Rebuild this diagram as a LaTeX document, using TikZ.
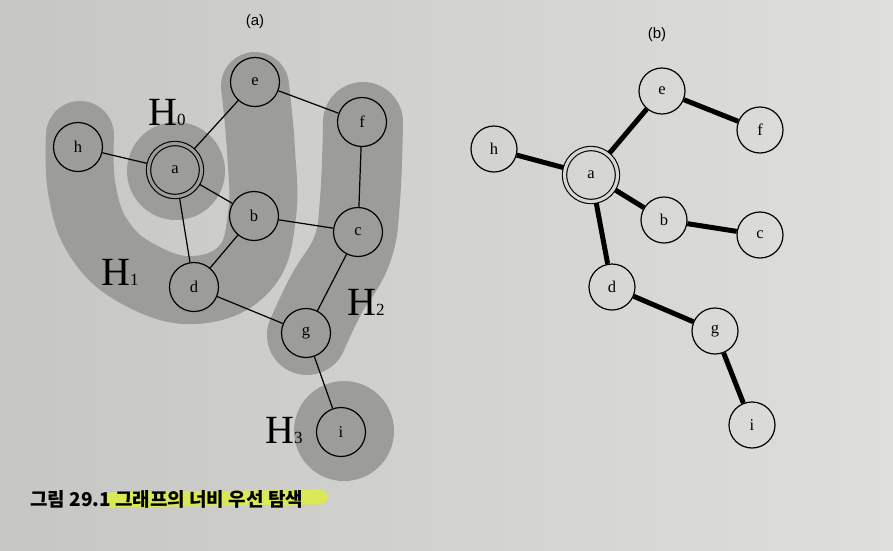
\documentclass[tikz,border=0pt]{standalone}
\usepackage{fontspec}
\setmainfont{Liberation Serif}
\newfontfamily\sflab{Liberation Sans}
\newfontfamily\kr{Noto Sans CJK KR}
\definecolor{paperL}{RGB}{198,198,194}
\definecolor{paperR}{RGB}{222,222,218}
\definecolor{paperM}{RGB}{214,214,210}
\definecolor{blob}{RGB}{156,156,153}
\definecolor{hilite}{RGB}{222,240,60}
\tikzset{
  vtx/.style={circle, draw, line width=1.2pt, minimum size=49pt, inner sep=0pt, font=\fontsize{16.5}{16.5}\selectfont},
  vtxb/.style={vtx, minimum size=46pt},
  root/.style={circle, draw, line width=1.1pt, double distance=3.2pt, minimum size=53pt, inner sep=0pt, outer sep=2.2pt, font=\fontsize{16.5}{16.5}\selectfont},
  blobline/.style={draw=blob, line cap=round, line join=round},
  thin edge/.style={line width=1.2pt},
  tree edge/.style={line width=5pt},
  hlab/.style={anchor=base west, inner sep=0pt},
  panel/.style={font=\sflab\fontsize{15}{15}\selectfont},
}
\newcommand{\Hlab}[1]{\fontsize{40}{40}\selectfont H\fontsize{17}{17}\selectfont #1}
\begin{document}
\begin{tikzpicture}[x=1pt,y=-1pt]
\useasboundingbox (0,0) rectangle (893,550);
\shade[left color=paperL, right color=paperR] (0,0) rectangle (893,550);

% --- gray level regions of (a)
\fill[blob] (176,171) circle (49);
\draw[blobline, line width=68pt] plot[smooth, tension=0.7] coordinates {(80,135) (82,190) (100,240) (140,275) (195,290) (245,268) (262,215) (261,150) (255,86)};
\draw[blobline, line width=80pt] plot[smooth, tension=0.7] coordinates {(363,122) (360,200) (352,250) (326,295) (307,335)};
\fill[blob] (344,431) circle (50);

% --- graph (a)
\node[panel] (la) at (255,22) {(a)};
\node[root, double=blob] (a) at (175,170) {a};
\node[vtx] (e) at (255,82) {e};
\node[vtx] (h) at (78,147) {h};
\node[vtx] (f) at (362,122) {f};
\node[vtx] (b) at (254,216) {b};
\node[vtx] (c) at (358,232) {c};
\node[vtx] (d) at (194,287) {d};
\node[vtx] (g) at (306,333) {g};
\node[vtx] (i) at (341,432) {i};
\draw[thin edge] (h) -- (a);
\draw[thin edge] (a) -- (e);
\draw[thin edge] (e) -- (f);
\draw[thin edge] (f) -- (c);
\draw[thin edge] (a) -- (b);
\draw[thin edge] (b) -- (c);
\draw[thin edge] (a) -- (d);
\draw[thin edge] (b) -- (d);
\draw[thin edge] (d) -- (g);
\draw[thin edge] (c) -- (g);
\draw[thin edge] (g) -- (i);

\node[hlab] (H0) at (148,125) {\Hlab{0}};
\node[hlab] (H1) at (101,285) {\Hlab{1}};
\node[hlab] (H2) at (347,315) {\Hlab{2}};
\node[hlab] (H3) at (265,443) {\Hlab{3}};

% --- tree (b)
\node[panel] (lb) at (657,35) {(b)};
\node[root, double=paperM] (a2) at (591,175) {a};
\node[vtxb] (e2) at (662,91) {e};
\node[vtxb] (f2) at (760,130) {f};
\node[vtxb] (h2) at (494,149) {h};
\node[vtxb] (b2) at (664,220) {b};
\node[vtxb] (c2) at (760,235) {c};
\node[vtxb] (d2) at (612,287) {d};
\node[vtxb] (g2) at (715,331) {g};
\node[vtxb] (i2) at (752,425) {i};
\draw[tree edge] (h2) -- (a2);
\draw[tree edge] (a2) -- (e2);
\draw[tree edge] (e2) -- (f2);
\draw[tree edge] (a2) -- (b2);
\draw[tree edge] (b2) -- (c2);
\draw[tree edge] (a2) -- (d2);
\draw[tree edge] (d2) -- (g2);
\draw[tree edge] (g2) -- (i2);

% --- caption
\draw[hilite, line width=15pt, line cap=round, opacity=0.8] (110,500) -- (320,497);
\node[anchor=west, inner sep=0pt, font=\kr\bfseries\fontsize{19}{19}\selectfont] (cap) at (30,499) {그림 29.1 그래프의 너비 우선 탐색};
\end{tikzpicture}
\end{document}
